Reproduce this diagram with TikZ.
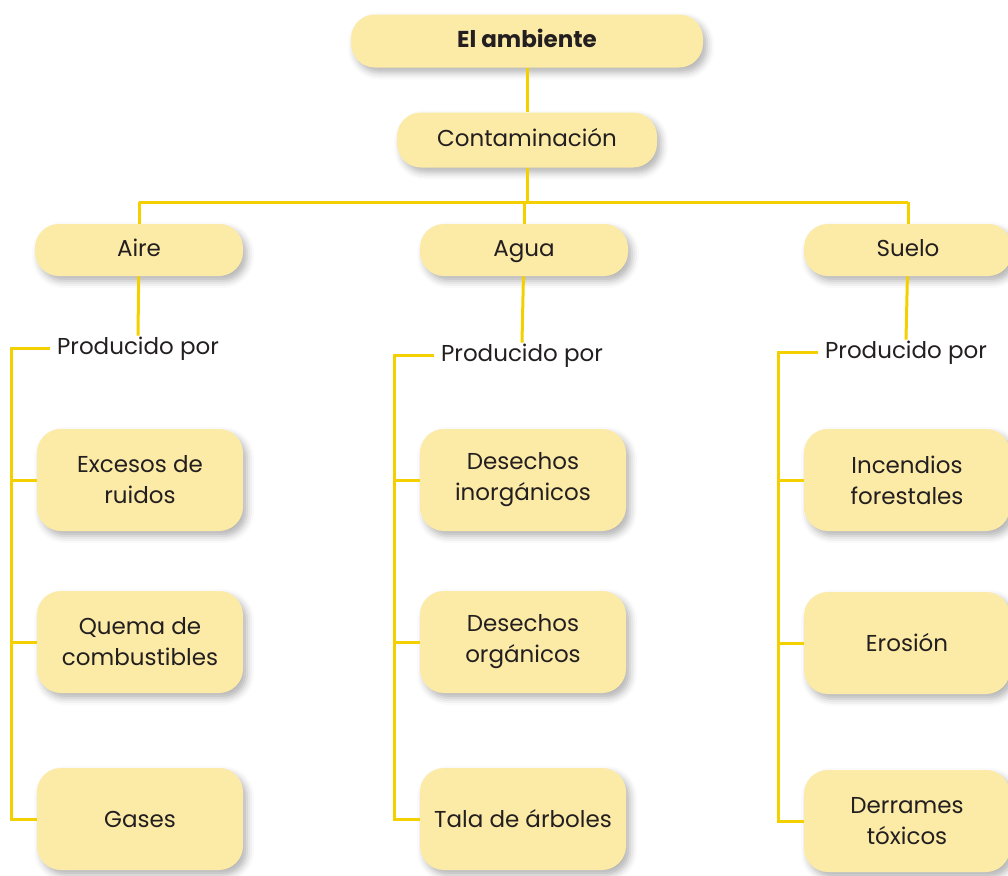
\documentclass[tikz,border=0pt]{standalone}
\usepackage{fontspec}
\setmainfont{Poppins}
\usetikzlibrary{positioning,shadows.blur}
\definecolor{boxfill}{HTML}{FCEBA6}
\definecolor{linkcol}{HTML}{F5D000}
\definecolor{ink}{HTML}{231F20}

\begin{document}
\begin{tikzpicture}[x=0.5pt,y=-0.5pt,
        every node/.style={text=ink, font=\fontsize{11.5}{15.5}\selectfont},
        box/.style={fill=boxfill, rounded corners=12pt, align=center,
            blur shadow={shadow xshift=2pt, shadow yshift=-2.5pt,
                shadow blur radius=3.5pt, shadow opacity=30}},
        oneline/.style={text height=1.6ex, text depth=.45ex},
        head/.style={box, oneline, minimum width=104pt, minimum height=26pt},
        cause/.style={box, minimum width=103pt, minimum height=51pt},
        link/.style={draw=linkcol, line width=1.5pt}]
        \useasboundingbox (0,0) rectangle (1008,875);

        % titulo
        \node[box, oneline, minimum width=176pt, minimum height=26.5pt, font=\fontsize{11.5}{15.5}\selectfont\bfseries] (amb) at (527,41) {El ambiente};
        \node[box, oneline, minimum width=130pt, minimum height=27.5pt] (cont) at (527,140) {Contaminación};

        % medios
        \node[head] (aire)  at (139,250) {Aire};
        \node[head] (agua)  at (524,250) {Agua};
        \node[head] (suelo) at (908,250) {Suelo};

        \node[oneline] (airepor)  at (138,348) {Producido por};
        \node[oneline] (aguapor)  at (522,355) {Producido por};
        \node[oneline] (suelopor) at (906,352) {Producido por};

        % causas
        \node[cause] (aire1) at (140,480) {Excesos de\\ruidos};
        \node[cause] (aire2) at (140,642) {Quema de\\combustibles};
        \node[cause] (aire3) at (140,819) {Gases};
        \node[cause] (agua1) at (523,480) {Desechos\\inorgánicos};
        \node[cause] (agua2) at (523,642) {Desechos\\orgánicos};
        \node[cause] (agua3) at (523,819) {Tala de árboles};
        \node[cause] (suelo1) at (907,480) {Incendios\\forestales};
        \node[cause] (suelo2) at (907,643) {Erosión};
        \node[cause] (suelo3) at (907,821) {Derrames\\tóxicos};

        % conexiones
        \coordinate (split) at (527,202);
        \draw[link] (amb) -- (cont);
        \draw[link] (cont) -- (split);
        \draw[link] (aire |- split) -- (suelo |- split);
        \foreach \c in {aire,agua,suelo} {
            \draw[link] (\c |- split) -- (\c);
            \draw[link] (\c) -- ([yshift=-3pt]\c por.north);
            \coordinate (\c corner) at ([xshift=-12.5pt]\c1.west |- \c por);
            \draw[link] (\c por.west) -- (\c corner) |- (\c3.west);
            \draw[link] (\c corner |- \c1) -- (\c1.west);
            \draw[link] (\c corner |- \c2) -- (\c2.west);
        }
\end{tikzpicture}
\end{document}
